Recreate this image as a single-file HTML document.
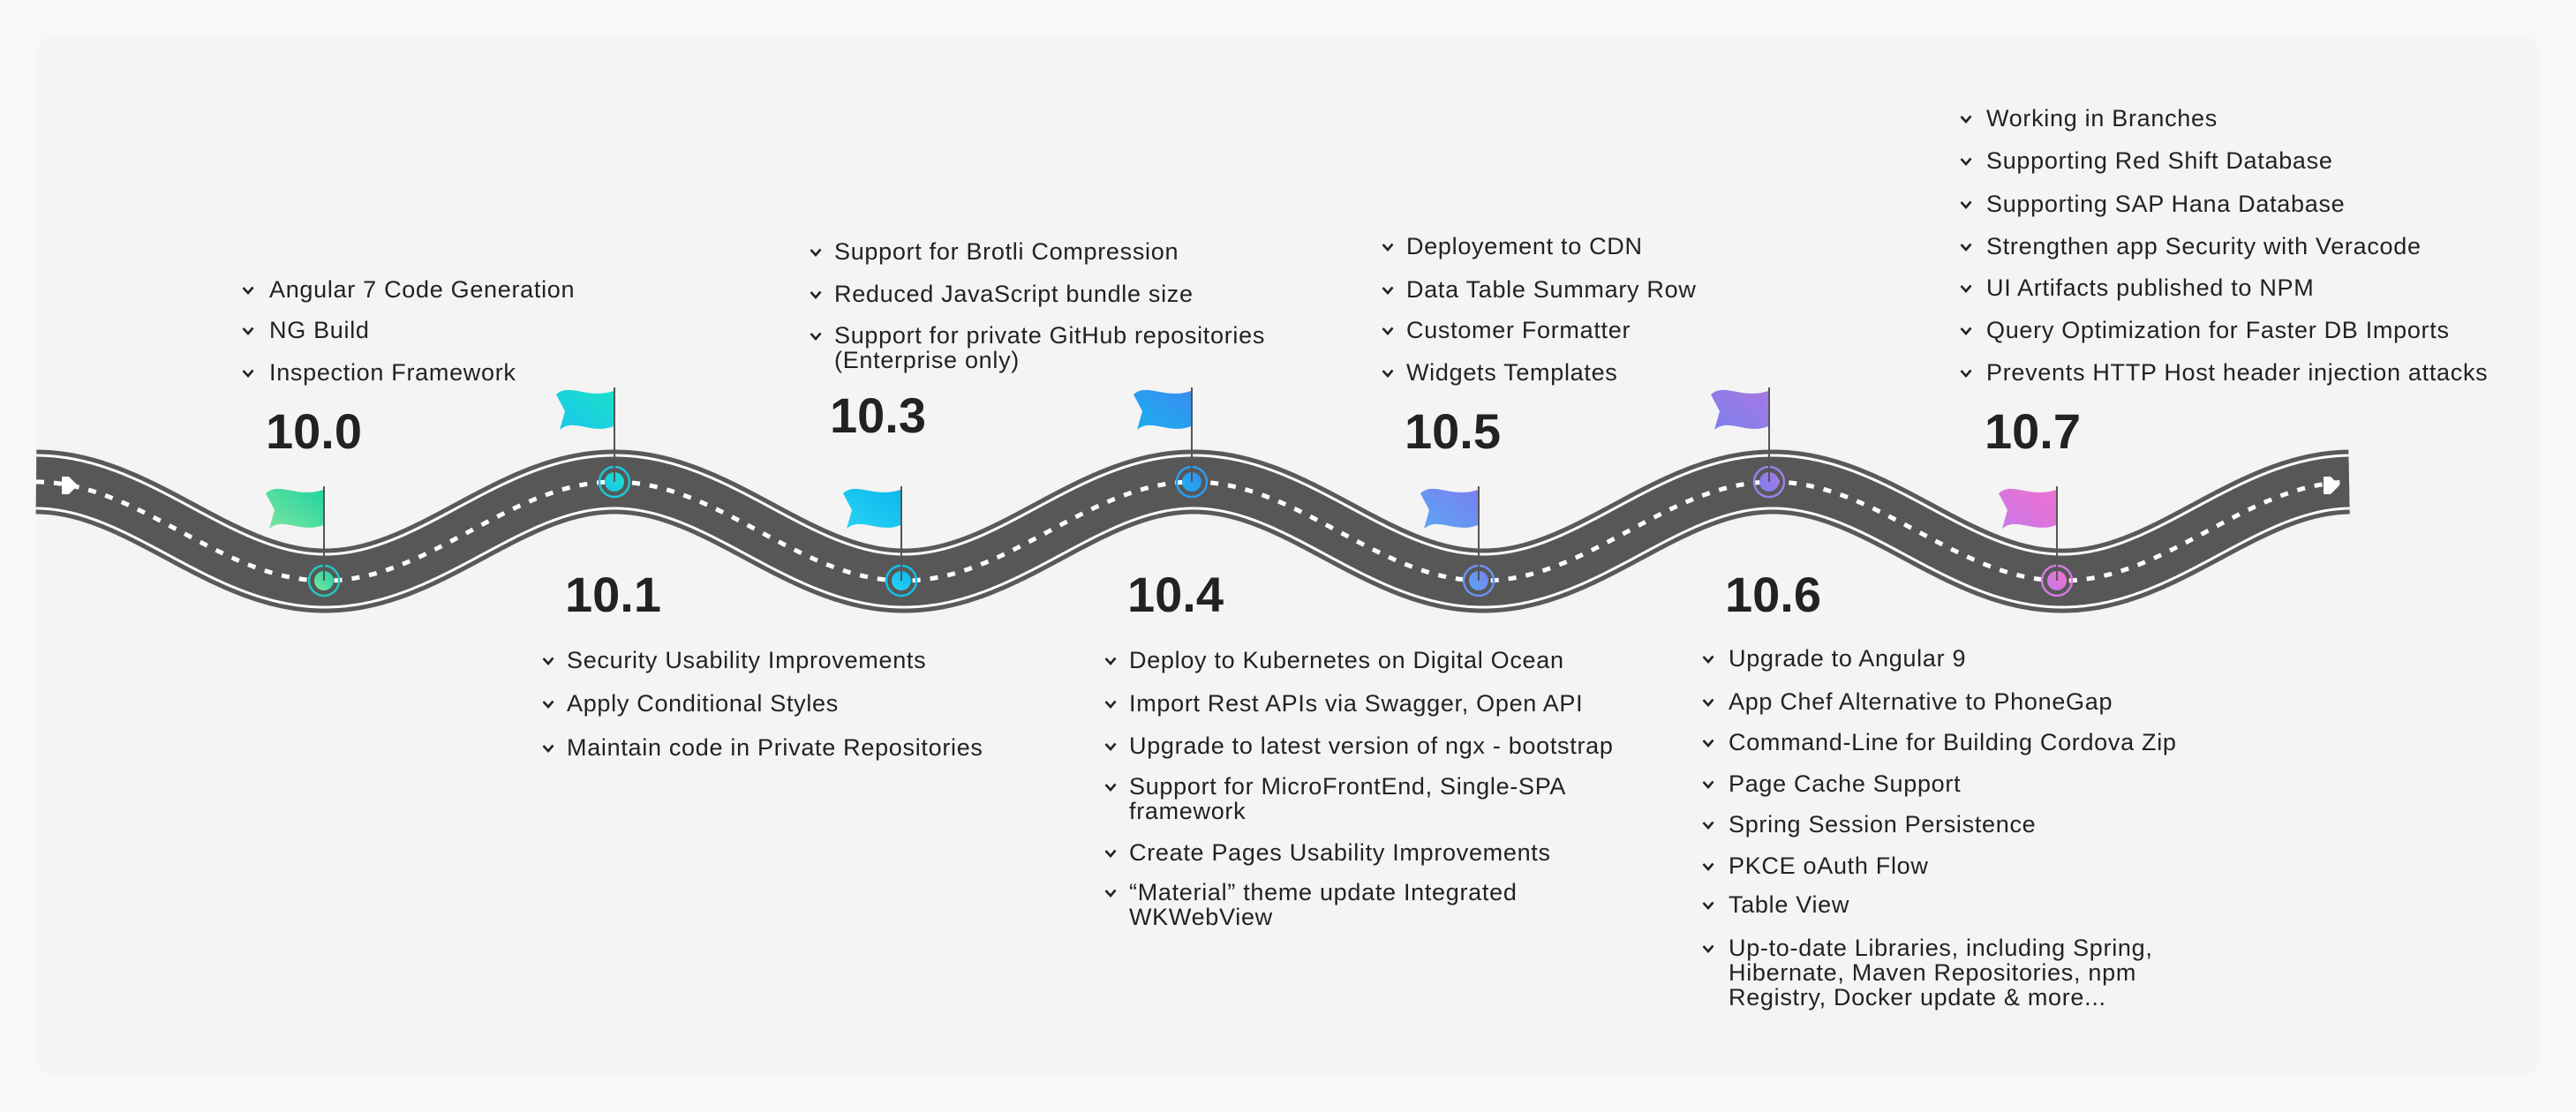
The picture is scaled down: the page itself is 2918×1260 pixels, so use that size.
<!DOCTYPE html>
<html><head><meta charset="utf-8">
<style>
html,body{margin:0;padding:0;background:#f8f8f8;}
body{width:2918px;height:1260px;position:relative;overflow:hidden;font-family:"Liberation Sans",Arial,sans-serif;color:#222;}
.card{position:absolute;left:41px;top:41px;width:2836px;height:1178px;background:#f4f4f4;border-radius:22px;}
svg{position:absolute;left:0;top:0;}
.lbl{position:absolute;font-weight:bold;font-size:56px;line-height:1;color:#222;transform:translateY(-50%);letter-spacing:0px;}
.it{position:absolute;font-size:27px;line-height:28px;color:#222;white-space:nowrap;letter-spacing:0.7px;}
.ck{position:absolute;width:14px;height:10px;}
</style></head><body>
<div class="card"></div>
<svg width="2918" height="1260" id="s">
<defs>
<linearGradient id="g0" x1="0" y1="1" x2="1" y2="0"><stop offset="0" stop-color="#7be6a0"/><stop offset="1" stop-color="#22d3a0"/></linearGradient>
<linearGradient id="g1" x1="0" y1="1" x2="1" y2="0"><stop offset="0" stop-color="#1ac6ee"/><stop offset="1" stop-color="#1ae0c8"/></linearGradient>
<linearGradient id="g3" x1="0" y1="1" x2="1" y2="0"><stop offset="0" stop-color="#2ad4f4"/><stop offset="1" stop-color="#0ab8ec"/></linearGradient>
<linearGradient id="g4" x1="0" y1="1" x2="1" y2="0"><stop offset="0" stop-color="#1ab0f0"/><stop offset="1" stop-color="#3a8cf0"/></linearGradient>
<linearGradient id="g5" x1="0" y1="1" x2="1" y2="0"><stop offset="0" stop-color="#5aa8f4"/><stop offset="1" stop-color="#7a7ef0"/></linearGradient>
<linearGradient id="g6" x1="0" y1="1" x2="1" y2="0"><stop offset="0" stop-color="#7a80ec"/><stop offset="1" stop-color="#a878e4"/></linearGradient>
<linearGradient id="g7" x1="0" y1="1" x2="1" y2="0"><stop offset="0" stop-color="#c878e8"/><stop offset="1" stop-color="#f070d0"/></linearGradient>
</defs>
<g id="road"></g>
<g id="marks"></g>
</svg>
<div class="lbl" style="left:301px;top:489px">10.0</div>
<div class="lbl" style="left:640px;top:674px">10.1</div>
<div class="lbl" style="left:940px;top:471px">10.3</div>
<div class="lbl" style="left:1277px;top:674px">10.4</div>
<div class="lbl" style="left:1591px;top:489px">10.5</div>
<div class="lbl" style="left:1954px;top:674px">10.6</div>
<div class="lbl" style="left:2248px;top:489px">10.7</div>
<div id="items"></div>
<script>
(function(){
var ns="http://www.w3.org/2000/svg";
function yAt(x){return 602-56*Math.cos(2*Math.PI*(x-40)/656);}
var d="";for(var x=41;x<=2661;x+=2){d+=(x==41?"M":"L")+x+" "+yAt(x).toFixed(2)+" ";}
var road=document.getElementById("road");
[["#595959",73,null],["#ffffff",63,null],["#575757",57,null],["#ffffff",5,"9 11"]].forEach(function(s){
 var p=document.createElementNS(ns,"path");p.setAttribute("d",d);
 p.setAttribute("fill","none");p.setAttribute("stroke",s[0]);p.setAttribute("stroke-width",s[1]);
 if(s[2])p.setAttribute("stroke-dasharray",s[2]);road.appendChild(p);});
var m=document.getElementById("marks");
function add(tag,attrs){var e=document.createElementNS(ns,tag);for(var k in attrs)e.setAttribute(k,attrs[k]);m.appendChild(e);return e;}
[[70,550],[2632,550]].forEach(function(a){add("path",{d:"M"+a[0]+" "+(a[1]-10)+" L"+(a[0]+8)+" "+(a[1]-10)+" L"+(a[0]+18)+" "+a[1]+" L"+(a[0]+8)+" "+(a[1]+10)+" L"+a[0]+" "+(a[1]+10)+" Z",fill:"#fff"});});
var ms=[[367,"g0","#22c8c0"],[696,"g1","#1ac8d8"],[1021,"g3","#14c0e8"],[1350,"g4","#2a9ff0"],[1675,"g5","#6a90f0"],[2004,"g6","#9a80e8"],[2330,"g7","#d878e0"]];
ms.forEach(function(o){
 var x=o[0],y=yAt(x),low=y>600;var top=low?551:439;
 add("circle",{cx:x,cy:y,r:17,fill:"none",stroke:o[2],"stroke-width":2.5});
 add("circle",{cx:x,cy:y,r:11,fill:"url(#"+o[1]+")"});
 add("line",{x1:x,y1:top,x2:x,y2:y,stroke:"#555","stroke-width":2});
 var fx=x-66,fy=top;
 add("path",{d:"M"+fx+" "+(fy+8)+" C"+(fx+15)+" "+(fy-6)+" "+(fx+35)+" "+(fy+14)+" "+(x-1)+" "+(fy+4)+" L"+(x-1)+" "+(fy+44)+" C"+(fx+40)+" "+(fy+54)+" "+(fx+20)+" "+(fy+34)+" "+(fx+4)+" "+(fy+48)+" L"+(fx+10)+" "+(fy+27)+" Z",fill:"url(#"+o[1]+")"});
});
var groups=[
 [274,305,[[328,"Angular 7 Code Generation"],[374,"NG Build"],[422,"Inspection Framework"]]],
 [614,642,[[748,"Security Usability Improvements"],[797,"Apply Conditional Styles"],[847,"Maintain code in Private Repositories"]]],
 [917,945,[[285,"Support for Brotli Compression"],[333,"Reduced JavaScript bundle size"],[380,"Support for private  GitHub repositories<br>(Enterprise only)"]]],
 [1251,1279,[[748,"Deploy to Kubernetes on Digital Ocean"],[797,"Import Rest APIs via Swagger, Open API"],[845,"Upgrade to latest version of ngx - bootstrap"],[891,"Support for MicroFrontEnd, Single-SPA<br>framework"],[966,"Create Pages Usability Improvements"],[1011,"\u201cMaterial\u201d theme update Integrated<br>WKWebView"]]],
 [1565,1593,[[279,"Deployement to CDN"],[328,"Data Table Summary Row"],[374,"Customer Formatter"],[422,"Widgets Templates"]]],
 [1928,1958,[[746,"Upgrade to Angular 9"],[795,"App Chef Alternative to PhoneGap"],[841,"Command-Line for Building Cordova Zip"],[888,"Page Cache Support"],[934,"Spring Session Persistence"],[981,"PKCE oAuth Flow"],[1025,"Table View"],[1074,"Up-to-date Libraries, including Spring,<br>Hibernate, Maven Repositories, npm<br>Registry, Docker update &amp; more..."]]],
 [2220,2250,[[134,"Working in Branches"],[182,"Supporting Red Shift Database"],[231,"Supporting SAP Hana Database"],[279,"Strengthen app Security with Veracode"],[326,"UI Artifacts published to NPM"],[374,"Query Optimization for Faster DB Imports"],[422,"Prevents HTTP Host header injection attacks"]]]
];
var h="";
groups.forEach(function(g){g[2].forEach(function(it){
 h+='<svg class="ck" style="left:'+g[0]+'px;top:'+(it[0]-4)+'px" width="14" height="10"><polyline points="1.5,2 7,8 12.5,1.5" fill="none" stroke="#222" stroke-width="2.6"/></svg>';
 h+='<div class="it" style="left:'+g[1]+'px;top:'+(it[0]-14)+'px">'+it[1]+'</div>';
});});
document.getElementById("items").innerHTML=h;
})();
</script>
</body></html>
